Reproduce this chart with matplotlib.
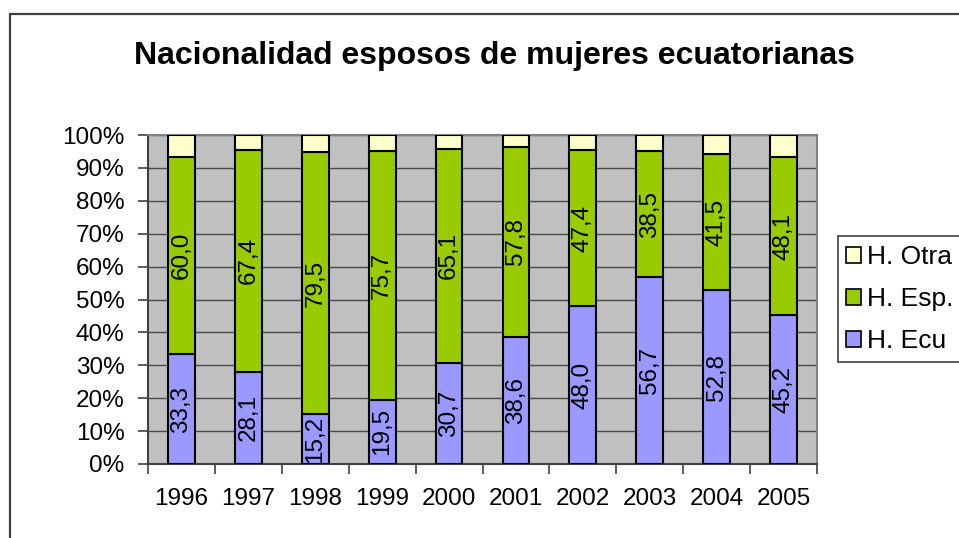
import matplotlib
matplotlib.use("Agg")
import matplotlib.pyplot as plt
from matplotlib.patches import Rectangle, Patch
import numpy as np

plt.rcParams['font.family'] = ['Liberation Sans', 'DejaVu Sans']

years = ['1996', '1997', '1998', '1999', '2000', '2001', '2002', '2003', '2004', '2005']
h_ecu = [33.3, 28.1, 15.2, 19.5, 30.7, 38.6, 48.0, 56.7, 52.8, 45.2]
h_esp = [60.0, 67.4, 79.5, 75.7, 65.1, 57.8, 47.4, 38.5, 41.5, 48.1]
h_otra = [6.7, 4.5, 5.3, 4.8, 4.2, 3.6, 4.6, 4.8, 5.7, 6.7]
series_names = ['H. Ecu', 'H. Esp.', 'H. Otra']
colors = ['#9999FF', '#99CC00', '#FFFFCC']
title = 'Nacionalidad esposos de mujeres ecuatorianas'

W, H = 959, 538
fig = plt.figure(figsize=(W / 100, H / 100), dpi=100)
fig.patch.set_facecolor('white')

# outer chart border (extends past right/bottom edges)
fig.patches.append(Rectangle((10 / W, -0.05), 1.1, 1 - 13.5 / H + 0.05, transform=fig.transFigure,
                             fill=False, edgecolor='#404040', linewidth=1.6, zorder=0))

ax = fig.add_axes([148 / W, 1 - 464 / H, (817 - 148) / W, (464 - 135) / H])
ax.set_facecolor('#C0C0C0')

x = np.arange(len(years))
ecu = np.array(h_ecu)
esp = np.array(h_esp)
otra = np.array(h_otra)
tot = ecu + esp + otra
p_ecu = ecu / tot * 100
p_esp = esp / tot * 100
p_otra = otra / tot * 100

bw = 0.4
kw = dict(width=bw, edgecolor='black', linewidth=1.5, zorder=3)
ax.bar(x, p_ecu, color=colors[0], **kw)
ax.bar(x, p_esp, bottom=p_ecu, color=colors[1], **kw)
ax.bar(x, p_otra, bottom=p_ecu + p_esp, color=colors[2], **kw)

fs = 17.5
for i in range(len(years)):
    ax.text(x[i], p_ecu[i] / 2, f"{h_ecu[i]:.1f}".replace('.', ','), rotation=90,
            ha='center', va='center', fontsize=fs, zorder=4)
    ax.text(x[i], p_ecu[i] + p_esp[i] / 2, f"{h_esp[i]:.1f}".replace('.', ','), rotation=90,
            ha='center', va='center', fontsize=fs, zorder=4)

ax.set_xlim(-0.5, len(years) - 0.5)
ax.set_ylim(0, 100)
ax.set_yticks(np.arange(0, 101, 10))
ax.set_yticklabels([f"{v}%" for v in range(0, 101, 10)], fontsize=fs)
ax.yaxis.grid(True, color='#4a4a4a', linewidth=1.0, zorder=1)
ax.set_axisbelow(True)

ax.set_xticks(np.arange(-0.5, len(years), 1.0))
ax.set_xticklabels([])
ax.set_xticks(x, minor=True)
ax.set_xticklabels(years, minor=True, fontsize=fs)
ax.tick_params(axis='x', which='major', length=7, width=1.2, direction='out', color='#404040')
ax.tick_params(axis='x', which='minor', length=0, pad=17)
ax.tick_params(axis='y', length=7, width=1.2, direction='out', pad=10, color='#404040')

for s in ['left', 'bottom']:
    ax.spines[s].set_color('#404040')
    ax.spines[s].set_linewidth(1.5)
for s in ['top', 'right']:
    ax.spines[s].set_color('#808080')
    ax.spines[s].set_linewidth(1.5)

fig.text(494 / W, 1 - 56 / H, title, ha='center', va='center', fontsize=23, fontweight='bold')

# legend
fig.patches.append(Rectangle((838 / W, 1 - 362 / H), 0.2, (362 - 236) / H, transform=fig.transFigure,
                             fill=True, facecolor='white', edgecolor='#404040', linewidth=1.2, zorder=1))
handles = [Patch(facecolor=colors[2], edgecolor='black', linewidth=1.2),
           Patch(facecolor=colors[1], edgecolor='black', linewidth=1.2),
           Patch(facecolor=colors[0], edgecolor='black', linewidth=1.2)]
labels = [series_names[2], series_names[1], series_names[0]]
fig.legend(handles, labels, loc='center left', bbox_to_anchor=(846 / W, 1 - 299 / H),
           frameon=False, fontsize=19, handlelength=0.55, handleheight=0.55,
           handletextpad=0.25, labelspacing=0.68, borderpad=0, borderaxespad=0)

fig.savefig('out.png', dpi=100)
